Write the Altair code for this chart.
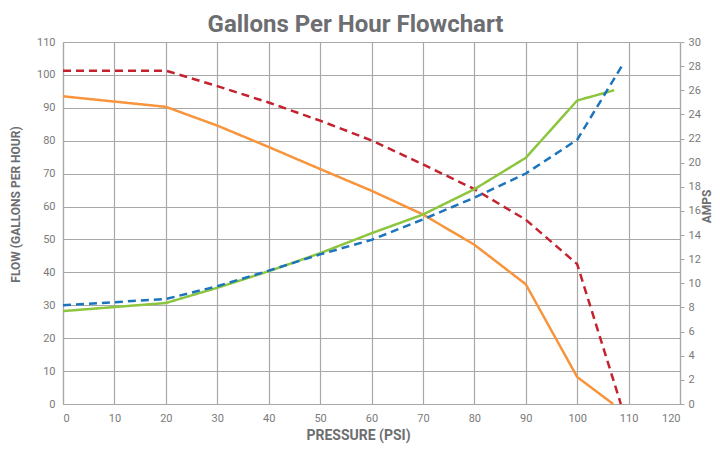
import altair as alt
import pandas as pd

# ---- data ----
pressure_orange = [0, 20, 30, 40, 50, 60, 70, 80, 90, 100, 107]
flow_orange = [93.5, 90.3, 84.6, 78.1, 71.4, 64.8, 57.6, 48.4, 36.4, 8.2, 0]

pressure_red = [0, 20, 30, 40, 50, 60, 70, 80, 90, 100, 108.5]
flow_red = [101.3, 101.3, 96.6, 91.6, 86.1, 80.1, 72.8, 65.3, 56.0, 42.5, 0]

pressure_green = [0, 20, 30, 40, 50, 60, 70, 80, 90, 100, 107.2]
amps_green = [7.7, 8.37, 9.63, 11.0, 12.5, 14.15, 15.7, 17.8, 20.4, 25.15, 26.0]

pressure_blue = [0, 20, 30, 40, 50, 60, 70, 80, 90, 100, 109.1]
amps_blue = [8.18, 8.7, 9.76, 11.05, 12.4, 13.6, 15.3, 17.1, 19.1, 21.9, 28.3]

series_names = ["Flow (solid)", "Flow (dashed)", "Amps (solid)", "Amps (dashed)"]
series_colors = ["#F7943C", "#C4222E", "#8CC63F", "#1C75BC"]
series_dash = [[1, 0], [8, 5], [1, 0], [8, 5]]

x_ticks = list(range(0, 121, 10))
flow_ticks = list(range(0, 111, 10))
amps_ticks = list(range(0, 31, 2))

flow_df = pd.DataFrame({
    "pressure": pressure_orange + pressure_red,
    "value": flow_orange + flow_red,
    "series": [series_names[0]] * len(pressure_orange) + [series_names[1]] * len(pressure_red),
})
amps_df = pd.DataFrame({
    "pressure": pressure_green + pressure_blue,
    "value": amps_green + amps_blue,
    "series": [series_names[2]] * len(pressure_green) + [series_names[3]] * len(pressure_blue),
})

FONT = "Roboto"
TXT = "#6D6E71"
LBL = "#7A7A7A"
GRID = "#A8A8A8"

x_enc = alt.X(
    "pressure:Q",
    scale=alt.Scale(domain=[0, 120], nice=False),
    axis=alt.Axis(
        values=x_ticks, title="PRESSURE (PSI)", grid=True, gridColor=GRID, gridWidth=1.2,
        ticks=False, domainColor=GRID, domainWidth=1.2, labelFont=FONT, labelFontSize=11,
        labelColor=LBL, labelPadding=8, titleFont=FONT, titleFontSize=14, titleFontWeight="bold",
        titleColor=TXT, titleX=295, titleY=31, titleAlign="center", titleBaseline="middle",
    ),
)
color_enc = alt.Color("series:N", scale=alt.Scale(domain=series_names, range=series_colors), legend=None)
dash_enc = alt.StrokeDash("series:N", scale=alt.Scale(domain=series_names, range=series_dash), legend=None)

flow = alt.Chart(flow_df).mark_line(strokeWidth=2.5).encode(
    x=x_enc,
    y=alt.Y(
        "value:Q",
        scale=alt.Scale(domain=[0, 110], nice=False),
        axis=alt.Axis(
            values=flow_ticks, title="FLOW (GALLONS PER HOUR)", grid=True, gridColor=GRID,
            gridWidth=1.2, ticks=False, domainColor=GRID, domainWidth=1.2, labelFont=FONT,
            labelFontSize=11, labelColor=LBL, labelPadding=8, titleFont=FONT, titleFontSize=12,
            titleFontWeight="bold", titleColor=TXT, titleAngle=270, titleX=-48, titleY=162,
            titleAlign="center", titleBaseline="middle",
        ),
    ),
    color=color_enc,
    strokeDash=dash_enc,
)

amps = alt.Chart(amps_df).mark_line(strokeWidth=2.5).encode(
    x=x_enc,
    y=alt.Y(
        "value:Q",
        scale=alt.Scale(domain=[0, 30], nice=False),
        axis=alt.Axis(
            orient="right", values=amps_ticks, title="AMPS", grid=False, ticks=True, tickSize=4,
            tickColor=GRID, domainColor=GRID, domainWidth=1.2, labelFont=FONT, labelFontSize=11,
            labelColor=LBL, labelPadding=4, titleFont=FONT, titleFontSize=12, titleFontWeight="bold",
            titleColor=TXT, titleAngle=270, titleX=26, titleY=164, titleAlign="center",
            titleBaseline="middle",
        ),
    ),
    color=color_enc,
    strokeDash=dash_enc,
)

chart = (
    alt.layer(flow, amps)
    .resolve_scale(y="independent")
    .properties(
        width=617,
        height=362,
        autosize="none",
        padding={"left": 55, "top": 34, "right": 32, "bottom": 41},
        title=alt.TitleParams(
            "Gallons Per Hour Flowchart", font=FONT, fontSize=24, fontWeight="bold",
            color=TXT, anchor="middle", dx=-16, dy=13, offset=12,
        ),
    )
    .configure_view(stroke=None)
)

chart.save("out.html", embed_options={"renderer": "svg", "actions": False})
